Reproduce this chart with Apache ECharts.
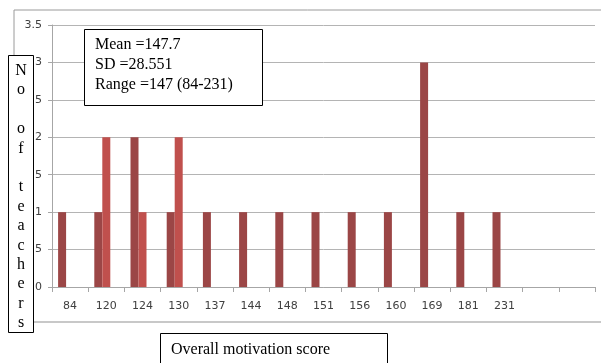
<!DOCTYPE html>
<html>
<head>
<meta charset="utf-8">
<script src="https://cdn.jsdelivr.net/npm/echarts@6/dist/echarts.min.js"></script>
<style>
  html, body { margin: 0; padding: 0; background: #ffffff; }
  #chart { width: 601px; height: 363px; }
</style>
</head>
<body>
<div id="chart"></div>
<script>
// Overall motivation score categories (two trailing empty slots on the axis)
const scoreLabels = ['84', '120', '124', '130', '137', '144', '148', '151', '156', '160', '169', '181', '231', '', ''];
// Number of teachers per score, in three grouped series
const seriesA = [1, 1, 2, 1, 1, 1, 1, 1, 1, 1, 3, 1, 1, '-', '-'];
const seriesB = ['-', 2, 1, 2, '-', '-', '-', '-', '-', '-', '-', '-', '-', '-', '-'];
const seriesC = ['-', '-', '-', '-', '-', '-', '-', '-', '-', '-', '-', '-', '-', '-', '-'];
// Value axis ticks
const yMin = 0, yMax = 3.5, yStep = 0.5;
// Summary statistics
const statsLines = ['Mean =147.7', 'SD =28.551', 'Range =147 (84-231)'];
const yTitleLetters = ['N', 'o', '', 'o', 'f', '', 't', 'e', 'a', 'c', 'h', 'e', 'r', 's'];
const xTitle = 'Overall motivation score';

const chart = echarts.init(document.getElementById('chart'), null, { renderer: 'canvas' });
const serif = '"Liberation Serif", "DejaVu Serif", serif';
const sans = '"DejaVu Sans", Verdana, sans-serif';

const barCommon = { type: 'bar', barWidth: 8, barGap: '0%', animation: false };

chart.setOption({
  animation: false,
  backgroundColor: '#ffffff',
  grid: { left: 52, right: 6, top: 25, bottom: 76, containLabel: false },
  xAxis: {
    type: 'category',
    data: scoreLabels,
    axisLine: { show: true, lineStyle: { color: '#a6a6a6', width: 1 } },
    axisTick: { show: true, length: 5, alignWithLabel: false, lineStyle: { color: '#a6a6a6' } },
    axisLabel: { interval: 0, margin: 14, color: '#404040', fontFamily: sans, fontSize: 11 },
    splitLine: { show: false }
  },
  yAxis: {
    type: 'value',
    min: yMin, max: yMax, interval: yStep,
    axisLine: { show: true, lineStyle: { color: '#a6a6a6', width: 1 } },
    axisTick: { show: true, length: 4, lineStyle: { color: '#a6a6a6' } },
    axisLabel: { margin: 10, color: '#404040', fontFamily: sans, fontSize: 11 },
    splitLine: { show: true, lineStyle: { color: '#b4b4b4', width: 1 } }
  },
  series: [
    Object.assign({ name: 'A', data: seriesA, itemStyle: { color: '#9b4646' } }, barCommon),
    Object.assign({ name: 'B', data: seriesB, itemStyle: { color: '#c0504d' } }, barCommon),
    Object.assign({ name: 'C', data: seriesC, itemStyle: { color: '#9bbb59' } }, barCommon)
  ],
  graphic: [
    // chart frame
    { type: 'line', z: 90, shape: { x1: 14, y1: 10, x2: 601, y2: 10 }, style: { stroke: '#9a9a9a', lineWidth: 1 } },
    { type: 'line', z: 90, shape: { x1: 14, y1: 10, x2: 14, y2: 322 }, style: { stroke: '#9a9a9a', lineWidth: 1 } },
    { type: 'line', z: 90, shape: { x1: 14, y1: 322, x2: 601, y2: 322 }, style: { stroke: '#c8c8c8', lineWidth: 2 } },
    // statistics box
    { type: 'rect', z: 100, shape: { x: 84.5, y: 29.5, width: 178, height: 76 },
      style: { fill: '#ffffff', stroke: '#000000', lineWidth: 1 } },
    { type: 'text', z: 101, left: 95, top: 35,
      style: { text: statsLines.join('\n'), font: '16px ' + serif, fill: '#000000', lineHeight: 20 } },
    // vertical axis title box
    { type: 'rect', z: 100, shape: { x: 8.5, y: 55.5, width: 25, height: 277 },
      style: { fill: '#ffffff', stroke: '#000000', lineWidth: 1 } },
    { type: 'text', z: 101, x: 21, y: 61,
      style: { text: yTitleLetters.join('\n'), font: '16px ' + serif, fill: '#000000', lineHeight: 19.4, align: 'center' } },
    // horizontal axis title box
    { type: 'rect', z: 100, shape: { x: 160.5, y: 333.5, width: 227, height: 40 },
      style: { fill: '#ffffff', stroke: '#000000', lineWidth: 1 } },
    { type: 'text', z: 101, x: 171, y: 350,
      style: { text: xTitle, font: '16px ' + serif, fill: '#000000', verticalAlign: 'middle' } }
  ]
});
</script>
</body>
</html>
